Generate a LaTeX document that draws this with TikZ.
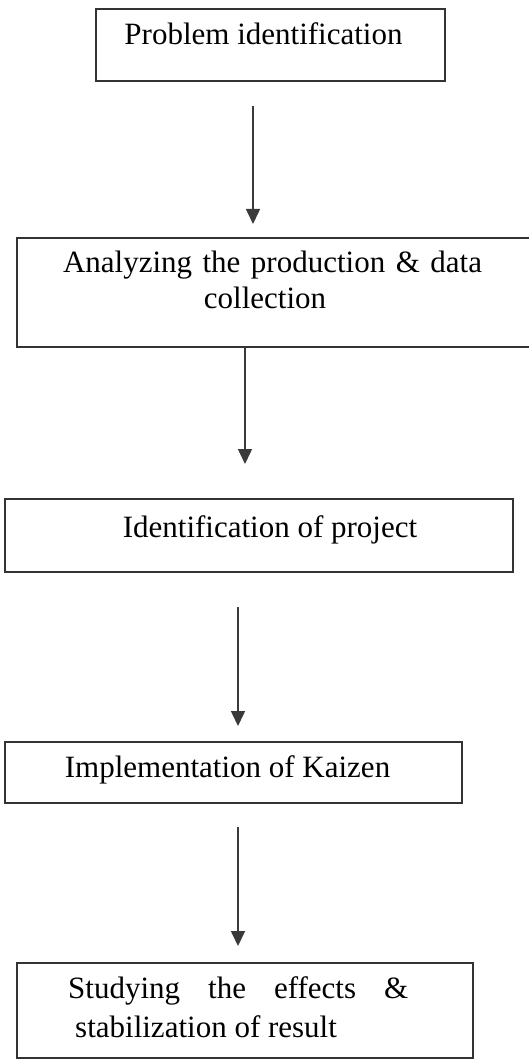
\documentclass[tikz,border=0pt]{standalone}
\usepackage{fontspec}
\setmainfont{Liberation Serif}
\usetikzlibrary{arrows.meta}
\definecolor{boxline}{HTML}{333333}
\definecolor{arrline}{HTML}{3A3A3A}
\tikzset{
  stepbox/.style={draw=boxline, line width=2pt, fill=none, inner sep=0pt, outer sep=0pt},
  label/.style={anchor=base, inner sep=0pt, font=\fontsize{31}{37}\selectfont},
  labelw/.style={anchor=base west, inner sep=0pt, font=\fontsize{31}{37}\selectfont},
  flow/.style={draw=arrline, line width=1.6pt, -{Triangle[width=14pt,length=15pt]}}
}
\begin{document}
\begin{tikzpicture}[x=1pt,y=-1pt]
\useasboundingbox (0,0) rectangle (529,1059);
% boxes
\node[stepbox, minimum width=349pt, minimum height=72pt] (b1) at (270.5,45) {};
\node[stepbox, minimum width=522pt, minimum height=109pt] (b2) at (278,292.5) {};
\node[stepbox, minimum width=508pt, minimum height=73pt] (b3) at (259,535.5) {};
\node[stepbox, minimum width=457pt, minimum height=61pt] (b4) at (233.5,772.5) {};
\node[stepbox, minimum width=456pt, minimum height=95pt] (b5) at (245,1010.5) {};
% texts
\node[label] (t1) at (263.5,45) {Problem identification};
\node[label] (t2a) at (272.5,272) {\makebox[419pt][s]{Analyzing the production \& data}};
\node[label] (t2b) at (265,308) {collection};
\node[label] (t3) at (270,537) {Identification of project};
\node[label] (t4) at (227.5,777) {Implementation of Kaizen};
\node[labelw] (t5a) at (68,998) {\makebox[340pt][s]{Studying the effects \&}};
\node[labelw] (t5b) at (75,1037) {stabilization of result};
% arrow ends
\coordinate (a1s) at (253,106);
\coordinate (a1e) at (253,224);
\coordinate (a2s) at (245,347);
\coordinate (a2e) at (245,464);
\coordinate (a3s) at (238,607);
\coordinate (a3e) at (238,726);
\coordinate (a4s) at (238,827);
\coordinate (a4e) at (238,946);
\draw[flow] (a1s) -- (a1e);
\draw[flow] (a2s) -- (a2e);
\draw[flow] (a3s) -- (a3e);
\draw[flow] (a4s) -- (a4e);
\end{tikzpicture}
\end{document}
